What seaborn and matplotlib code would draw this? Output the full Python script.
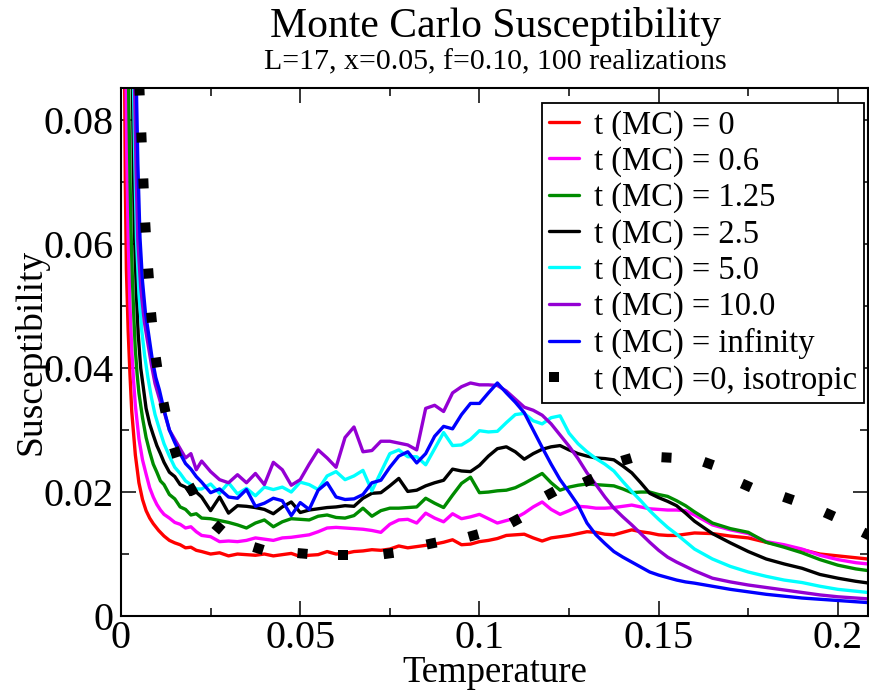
import matplotlib
matplotlib.use("Agg")
import matplotlib.pyplot as plt
import seaborn as sns
import numpy as np
import pandas as pd
from matplotlib.ticker import MultipleLocator
from matplotlib.lines import Line2D

# ---------------- data ----------------
labels = ["t (MC) = 0", "t (MC) = 0.6", "t (MC) = 1.25", "t (MC) = 2.5",
          "t (MC) = 5.0", "t (MC) = 10.0", "t (MC) = infinity",
          "t (MC) =0, isotropic"]
colors = ["#ff0000", "#ff00ff", "#008b00", "#000000", "#00ffff", "#9400d3", "#0000ff", "#000000"]

# shared temperature grid for T >= 0.0225
T_body = [0.0225, 0.025, 0.0275, 0.03, 0.0325, 0.035, 0.0375, 0.04, 0.0425, 0.045,
          0.0475, 0.05, 0.0525, 0.055, 0.0575, 0.06, 0.0625, 0.065, 0.0675, 0.07,
          0.0725, 0.075, 0.0775, 0.08, 0.0825, 0.085, 0.0875, 0.09, 0.0925, 0.095,
          0.0975, 0.1, 0.1025, 0.105, 0.1075, 0.11, 0.1125, 0.115, 0.1175, 0.12,
          0.1225, 0.125, 0.1275, 0.13, 0.1325, 0.135, 0.1375, 0.14, 0.1425, 0.145,
          0.1475, 0.15, 0.1525, 0.155, 0.1575, 0.16,
          0.165, 0.17, 0.175, 0.18, 0.185, 0.19, 0.195, 0.2, 0.205, 0.21]

# low-temperature heads (each curve leaves the top of the frame at a different T)
red_T_head = [0.0009, 0.0012, 0.0015, 0.002, 0.0025, 0.003, 0.004, 0.005, 0.006, 0.007,
              0.008, 0.009, 0.0105, 0.012, 0.0135, 0.015, 0.0165, 0.018, 0.0195, 0.021]
red_head = [0.098, 0.070, 0.056, 0.046, 0.039, 0.033, 0.026, 0.0215, 0.0188, 0.0170,
            0.0158, 0.0149, 0.0138, 0.0129, 0.0122, 0.0118, 0.0115, 0.0110, 0.0111, 0.0106]
red_body = [0.0104, 0.0100, 0.0102, 0.0097, 0.0100, 0.0099, 0.0098, 0.0100, 0.0097, 0.0099,
            0.0101, 0.0096, 0.0098, 0.0099, 0.0104, 0.0100, 0.0101, 0.0104, 0.0105, 0.0107,
            0.0106, 0.0108, 0.0113, 0.0110, 0.0112, 0.0114, 0.0116, 0.0119, 0.0123, 0.0115,
            0.0116, 0.0120, 0.0122, 0.0125, 0.0130, 0.0131, 0.0132, 0.0126, 0.0121, 0.0126,
            0.0128, 0.0130, 0.0133, 0.0136, 0.0135, 0.0132, 0.0131, 0.0135, 0.0139, 0.0136,
            0.0134, 0.0131, 0.0130, 0.0130, 0.0132, 0.0134,
            0.0133, 0.0129, 0.0126, 0.0119, 0.0113, 0.0107, 0.0100, 0.0097, 0.0094, 0.0091]

magenta_T_head = [0.0013, 0.0016, 0.002, 0.0025, 0.003, 0.0035, 0.004, 0.005, 0.006, 0.007,
                  0.008, 0.009, 0.010, 0.011, 0.012, 0.0135, 0.015, 0.0165, 0.018, 0.0195, 0.021]
magenta_head = [0.092, 0.075, 0.061, 0.050, 0.043, 0.038, 0.034, 0.0286, 0.0252, 0.0229,
                0.0207, 0.0192, 0.0180, 0.0171, 0.0164, 0.0158, 0.0151, 0.0148, 0.0142, 0.0144, 0.0136]
magenta_body = [0.0130, 0.0128, 0.0120, 0.0121, 0.0120, 0.0122, 0.0126, 0.0124, 0.0122, 0.0126,
                0.0127, 0.0129, 0.0131, 0.0136, 0.0142, 0.0143, 0.0142, 0.0141, 0.0140, 0.0138,
                0.0135, 0.0148, 0.0155, 0.0156, 0.0150, 0.0166, 0.0158, 0.0152, 0.0165, 0.0157,
                0.0160, 0.0164, 0.0157, 0.0150, 0.0154, 0.0158, 0.0166, 0.0176, 0.0184, 0.0172,
                0.0164, 0.0170, 0.0177, 0.0176, 0.0174, 0.0174, 0.0175, 0.0177, 0.0179, 0.0176,
                0.0173, 0.0172, 0.0171, 0.0171, 0.0170, 0.0163,
                0.0147, 0.0139, 0.0133, 0.0120, 0.0115, 0.0108, 0.0098, 0.0091, 0.0086, 0.0083]

green_T_head = [0.0019, 0.0022, 0.0025, 0.0028, 0.0032, 0.0036, 0.004, 0.0045, 0.005, 0.006,
                0.007, 0.008, 0.009, 0.010, 0.011, 0.012, 0.0135, 0.015, 0.0165, 0.018, 0.0195, 0.021]
green_head = [0.095, 0.082, 0.071, 0.062, 0.054, 0.048, 0.043, 0.039, 0.036, 0.032,
              0.0288, 0.0265, 0.0245, 0.0232, 0.0218, 0.0212, 0.0196, 0.0189, 0.0176, 0.0172, 0.0163, 0.0165]
green_body = [0.0158, 0.0157, 0.0154, 0.0151, 0.0147, 0.0142, 0.0150, 0.0155, 0.0144, 0.0152,
              0.0157, 0.0156, 0.0155, 0.0161, 0.0163, 0.0159, 0.0158, 0.0162, 0.0174, 0.0161,
              0.0170, 0.0174, 0.0174, 0.0175, 0.0176, 0.0190, 0.0182, 0.0175, 0.0195, 0.0214,
              0.0224, 0.0199, 0.0200, 0.0202, 0.0203, 0.0207, 0.0214, 0.0222, 0.0230, 0.0215,
              0.0203, 0.0208, 0.0211, 0.0213, 0.0212, 0.0211, 0.0210, 0.0205, 0.0199, 0.0200,
              0.0200, 0.0196, 0.0193, 0.0186, 0.0178, 0.0168,
              0.0150, 0.0141, 0.0135, 0.0119, 0.0111, 0.0102, 0.0091, 0.0082, 0.0076, 0.0072]

black_T_head = [0.0029, 0.0032, 0.0035, 0.0038, 0.0043, 0.0048, 0.0055, 0.0062, 0.0070, 0.008,
                0.009, 0.010, 0.011, 0.012, 0.0135, 0.015, 0.0165, 0.018, 0.0195, 0.021]
black_head = [0.095, 0.085, 0.071, 0.061, 0.052, 0.0455, 0.040, 0.0370, 0.0335, 0.0310,
              0.0292, 0.0275, 0.0262, 0.0248, 0.0232, 0.0225, 0.0212, 0.0208, 0.0196, 0.0200]
black_body = [0.0192, 0.0170, 0.0192, 0.0166, 0.0178, 0.0177, 0.0175, 0.0172, 0.0165, 0.0176,
              0.0184, 0.0167, 0.0171, 0.0173, 0.0175, 0.0176, 0.0178, 0.0177, 0.0190, 0.0198,
              0.0199, 0.0210, 0.0222, 0.0201, 0.0203, 0.0210, 0.0215, 0.0219, 0.0237, 0.0234,
              0.0233, 0.0243, 0.0258, 0.0270, 0.0273, 0.0265, 0.0253, 0.0262, 0.0269, 0.0273,
              0.0275, 0.0268, 0.0262, 0.0258, 0.0255, 0.0254, 0.0252, 0.0242, 0.0231, 0.0215,
              0.0198, 0.0191, 0.0185, 0.0178, 0.0166, 0.0153,
              0.0133, 0.0118, 0.0104, 0.0092, 0.0084, 0.0077, 0.0067, 0.0061, 0.0056, 0.0052]

cyan_T_head = [0.0032, 0.0035, 0.0039, 0.0043, 0.0050, 0.0058, 0.0066, 0.0075, 0.0085, 0.0095,
               0.0108, 0.012, 0.0135, 0.015, 0.0165, 0.018, 0.0195, 0.021]
cyan_head = [0.095, 0.085, 0.072, 0.061, 0.052, 0.046, 0.042, 0.0385, 0.0352, 0.0325,
             0.0300, 0.0278, 0.0258, 0.0240, 0.0230, 0.0218, 0.0212, 0.0205]
cyan_body = [0.0205, 0.0213, 0.0198, 0.0215, 0.0197, 0.0206, 0.0194, 0.0208, 0.0204, 0.0208,
             0.0200, 0.0216, 0.0212, 0.0204, 0.0226, 0.0233, 0.0220, 0.0226, 0.0235, 0.0202,
             0.0232, 0.0262, 0.0268, 0.0257, 0.0257, 0.0244, 0.0270, 0.0296, 0.0275, 0.0276,
             0.0285, 0.0299, 0.0297, 0.0298, 0.0312, 0.0325, 0.0327, 0.0315, 0.0310, 0.0320,
             0.0323, 0.0295, 0.0278, 0.0265, 0.0254, 0.0245, 0.0234, 0.0217, 0.0201, 0.0186,
             0.0170, 0.0156, 0.0143, 0.0132, 0.0120, 0.0108,
             0.0092, 0.0080, 0.0071, 0.0064, 0.0058, 0.0054, 0.0048, 0.0043, 0.0040, 0.0037]

purple_T_head = [0.0034, 0.0038, 0.0042, 0.0047, 0.0055, 0.0065, 0.0075, 0.0085, 0.0095, 0.011,
                 0.012, 0.0135, 0.015, 0.0165, 0.018, 0.0195, 0.021]
purple_head = [0.096, 0.085, 0.072, 0.0605, 0.053, 0.0475, 0.0440, 0.0405, 0.0375, 0.0345,
               0.0330, 0.0300, 0.0285, 0.0270, 0.0255, 0.0262, 0.0236]
purple_body = [0.0250, 0.0233, 0.0220, 0.0215, 0.0228, 0.0215, 0.0230, 0.0212, 0.0248, 0.0236,
               0.0211, 0.0220, 0.0245, 0.0268, 0.0255, 0.0240, 0.0288, 0.0305, 0.0265, 0.0267,
               0.0282, 0.0282, 0.0279, 0.0276, 0.0268, 0.0335, 0.0340, 0.0330, 0.0360, 0.0370,
               0.0376, 0.0373, 0.0373, 0.0372, 0.0363, 0.0350, 0.0337, 0.0332, 0.0324, 0.0310,
               0.0292, 0.0274, 0.0254, 0.0231, 0.0212, 0.0192, 0.0174, 0.0160, 0.0147, 0.0133,
               0.0119, 0.0106, 0.0095, 0.0087, 0.0080, 0.0073,
               0.0061, 0.0055, 0.0050, 0.0046, 0.0042, 0.0038, 0.0034, 0.0031, 0.0029, 0.0027]

blue_T_head = [0.0039, 0.0043, 0.0047, 0.0053, 0.006, 0.0068, 0.0077, 0.0087, 0.0097, 0.0107,
               0.0115, 0.0125, 0.0135, 0.015, 0.0165, 0.018, 0.0195, 0.021]
blue_head = [0.096, 0.085, 0.073, 0.061, 0.054, 0.049, 0.0455, 0.0415, 0.0385, 0.0365,
             0.0345, 0.0322, 0.0300, 0.0280, 0.0262, 0.0246, 0.0237, 0.0225]
blue_body = [0.0216, 0.0199, 0.0205, 0.0192, 0.0190, 0.0204, 0.0177, 0.0182, 0.0190, 0.0186,
             0.0162, 0.0183, 0.0172, 0.0203, 0.0215, 0.0192, 0.0188, 0.0189, 0.0196, 0.0215,
             0.0219, 0.0240, 0.0258, 0.0265, 0.0247, 0.0262, 0.0290, 0.0306, 0.0302, 0.0325,
             0.0343, 0.0343, 0.0360, 0.0376, 0.0360, 0.0345, 0.0328, 0.0300, 0.0272, 0.0245,
             0.0220, 0.0200, 0.0179, 0.0150, 0.0131, 0.0117, 0.0104, 0.0095, 0.0087, 0.0079,
             0.0071, 0.0066, 0.0062, 0.0058, 0.0055, 0.0053,
             0.0048, 0.0043, 0.0039, 0.0035, 0.0032, 0.0029, 0.0027, 0.0025, 0.0023, 0.0021]

# isotropic curve: one entry per visible square of the dotted line
iso_T = [0.0051, 0.0056, 0.0061, 0.0066, 0.0075, 0.0085, 0.0099, 0.0121, 0.0152,
         0.0195, 0.0272, 0.0383, 0.0505, 0.062, 0.0745, 0.0864, 0.0983, 0.110, 0.1197,
         0.1303, 0.141, 0.152, 0.1638, 0.1743, 0.186, 0.1975, 0.208]
iso_chi = [0.0848, 0.0773, 0.0699, 0.0627, 0.0554, 0.0482, 0.0410, 0.0337, 0.0265,
           0.0205, 0.0144, 0.0110, 0.0102, 0.0098, 0.0102, 0.0117, 0.0131, 0.0155, 0.0199,
           0.0219, 0.0254, 0.0257, 0.0247, 0.0211, 0.0190, 0.0164, 0.0133]

x_ticks = [0, 0.05, 0.1, 0.15, 0.2]
x_tick_labels = ["0", "0.05", "0.1", "0.15", "0.2"]
y_ticks = [0, 0.02, 0.04, 0.06, 0.08]
y_tick_labels = ["0", "0.02", "0.04", "0.06", "0.08"]

title = "Monte Carlo Susceptibility"
subtitle = "L=17, x=0.05, f=0.10, 100 realizations"

# ---------------- build tidy tables ----------------
series = [
    (red_T_head, red_head, red_body),
    (magenta_T_head, magenta_head, magenta_body),
    (green_T_head, green_head, green_body),
    (black_T_head, black_head, black_body),
    (cyan_T_head, cyan_head, cyan_body),
    (purple_T_head, purple_head, purple_body),
    (blue_T_head, blue_head, blue_body),
]
frames = []
for lab, (th, vh, vb) in zip(labels[:7], series):
    frames.append(pd.DataFrame({"T": list(th) + T_body, "chi": list(vh) + vb, "series": lab}))

# ---------------- style ----------------
sns.set_style("ticks")
plt.rcParams["font.family"] = ["Liberation Serif", "DejaVu Serif"]
for key in ["text.color", "axes.labelcolor", "xtick.color", "ytick.color", "axes.edgecolor"]:
    plt.rcParams[key] = "black"

W, H = 869, 694
fig = plt.figure(figsize=(W / 100, H / 100), dpi=100)
ax = fig.add_axes([121 / W, 78 / H, 747 / W, 528 / H])
ax.set_xlim(0, 0.2084)
ax.set_ylim(0, 0.0852)

for df, col, lab in zip(frames, colors[:7], labels[:7]):
    sns.lineplot(data=df, x="T", y="chi", color=col, lw=2.4, label=lab, ax=ax,
                 sort=False, estimator=None)

# isotropic: thick dotted line -> squares oriented along the curve
pts = ax.transData.transform(np.column_stack([iso_T, iso_chi]))
n = len(iso_T)
for i in range(n):
    a = pts[max(i - 1, 0)]
    b = pts[min(i + 1, n - 1)]
    ang = np.degrees(np.arctan2(b[1] - a[1], b[0] - a[0]))
    ax.plot([iso_T[i]], [iso_chi[i]], linestyle="none", marker=(4, 0, 45 + ang),
            markersize=10.2, markeredgewidth=0, color="black", zorder=5)

ax.set_xlim(0, 0.2084)
ax.set_ylim(0, 0.0852)
ax.set_xticks(x_ticks)
ax.set_xticklabels(x_tick_labels)
ax.set_yticks(y_ticks)
ax.set_yticklabels(y_tick_labels)
ax.xaxis.set_minor_locator(MultipleLocator(0.025))
ax.yaxis.set_minor_locator(MultipleLocator(0.01))
ax.tick_params(which="major", direction="in", length=11, width=1.1, color="black",
               top=True, right=True, labelsize=29, labelcolor="black")
ax.tick_params(axis="x", which="major", pad=3)
ax.tick_params(axis="y", which="major", pad=5.5)
ax.tick_params(which="minor", direction="in", length=5.5, width=1.1, color="black",
               top=True, right=True)
for sp in ax.spines.values():
    sp.set_visible(True)
    sp.set_linewidth(1.5)
    sp.set_color("black")

ax.set_xlabel("Temperature", fontsize=26.5)
ax.xaxis.label.set_va("baseline")
ax.xaxis.set_label_coords(0.5, (616 - 682) / 528)
ax.set_ylabel("Susceptibility", fontsize=27)
ax.yaxis.label.set_va("baseline")
ax.yaxis.set_label_coords((41 - 121) / 747, 0.5)

fig.text(495 / W, 1 - 37 / H, title, ha="center", va="baseline", fontsize=30)
fig.text(495 / W, 1 - 69 / H, subtitle, ha="center", va="baseline", fontsize=21.5)

handles, labs = ax.get_legend_handles_labels()
handles = handles[:7] + [Line2D([0], [0], color="black", lw=7.2,
                                linestyle=(0, (1.0, 3.4)), dash_capstyle="butt")]
labs = labs[:7] + [labels[7]]
leg = ax.legend(handles, labs, loc="upper right", bbox_to_anchor=(0.995, 0.972),
                borderaxespad=0, fontsize=23.5, frameon=True, fancybox=False,
                shadow=False, handlelength=0.92, handletextpad=0.46,
                labelspacing=0.17, borderpad=0.22, framealpha=1)
leg.get_frame().set_edgecolor("black")
leg.get_frame().set_linewidth(1.3)

fig.savefig("out.png", dpi=100)
